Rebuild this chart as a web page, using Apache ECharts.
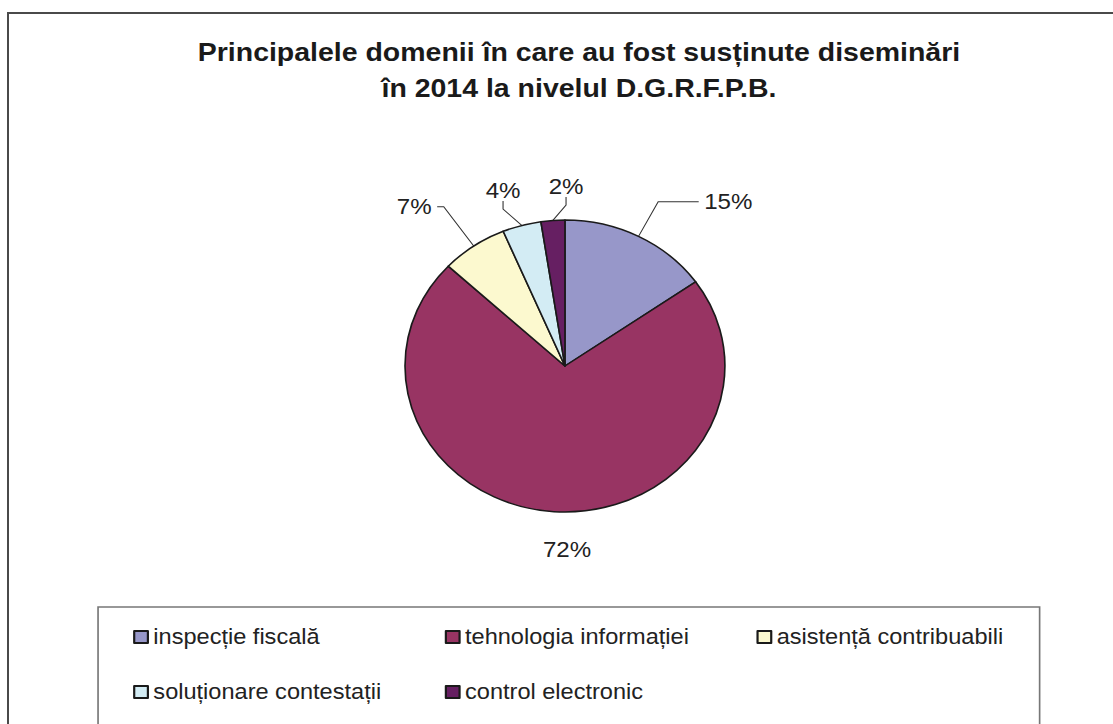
<!DOCTYPE html>
<html><head><meta charset="utf-8">
<script src="https://cdn.jsdelivr.net/npm/echarts@6/dist/echarts.min.js"></script>
<style>
html,body{margin:0;padding:0;background:#fff;}
#wrap{position:relative;width:1113px;height:724px;overflow:hidden;background:#fff;}
#frame{position:absolute;left:7px;top:12px;width:1200px;height:800px;border-left:2px solid #4a4a4a;border-top:2px solid #4a4a4a;}
#chart{position:absolute;left:0;top:0;width:1016px;height:724px;transform:scaleX(1.0955);transform-origin:0 0;}
</style></head><body>
<div id="wrap"><div id="frame"></div><div id="chart"></div></div>
<script>
// ---- data ----
const categories = ['inspecție fiscală', 'tehnologia informației', 'asistență contribuabili', 'soluționare contestații', 'control electronic'];
const values = [15.2, 71.7, 6.7, 3.9, 2.4];
const titleLines = ['Principalele domenii în care au fost susținute diseminări', 'în 2014 la nivelul D.G.R.F.P.B.'];

// ---- styles / layout helpers (not data) ----
const colors = ['#9797c9', '#983463', '#fcf9cf', '#d3ecf4', '#661f62'];
const leader = [[39, 37], [20, 0], [48, 6], [20, 8], [20, 8]];
const labelSpot = [null, [517.6, 549], null, [459.2, 190], [516.7, 186]];
const FONT = 'Liberation Sans, Arial, sans-serif';

const chart = echarts.init(document.getElementById('chart'), null, { renderer: 'svg' });
chart.setOption({
  animation: false,
  backgroundColor: 'transparent',
  title: {
    text: titleLines.join('\n'),
    left: 528.5,
    top: 34,
    padding: 0,
    textAlign: 'center',
    textStyle: { fontFamily: FONT, fontWeight: 'bold', fontSize: 26, lineHeight: 36, color: '#1a1a1a' }
  },
  legend: {
    data: categories,
    orient: 'horizontal',
    left: 89.5,
    top: 607,
    padding: [18, 5, 60, 32],
    itemGap: 31,
    itemWidth: 12.5,
    itemHeight: 12,
    icon: 'rect',
    borderColor: '#777',
    borderWidth: 1.5,
    selectedMode: false,
    textStyle: { fontFamily: FONT, fontSize: 21.5, color: '#222', width: 235, height: 24, lineHeight: 24 }
  },
  series: [{
    type: 'pie',
    center: [515.7, 366],
    radius: 146,
    startAngle: 90,
    clockwise: true,
    avoidLabelOverlap: false,
    emphasis: { disabled: true },
    itemStyle: { borderColor: '#1a1a1a', borderWidth: 1.5 },
    label: {
      show: true,
      position: 'outside',
      formatter: function (p) { return Math.round(p.percent) + '%'; },
      fontFamily: FONT,
      fontSize: 22,
      color: '#222',
      distanceToLabelLine: 5
    },
    labelLine: { show: true, lineStyle: { color: '#333', width: 1 } },
    labelLayout: function (p) {
      const s = labelSpot[p.dataIndex];
      if (!s) return;
      return { x: s[0], y: s[1], align: 'center', verticalAlign: 'middle' };
    },
    data: categories.map(function (n, i) {
      return {
        name: n,
        value: values[i],
        itemStyle: { color: colors[i] },
        labelLine: { show: i !== 1, length: leader[i][0], length2: leader[i][1] }
      };
    })
  }]
});
</script>
</body></html>
